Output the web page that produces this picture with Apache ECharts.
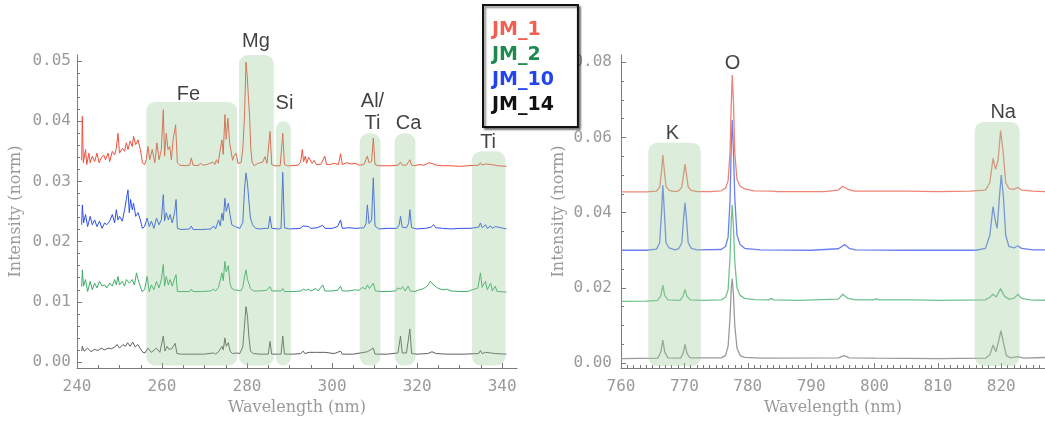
<!DOCTYPE html>
<html><head><meta charset="utf-8">
<script src="https://cdn.jsdelivr.net/npm/echarts@6.0.0/dist/echarts.min.js"></script>
<style>html,body{margin:0;padding:0;background:#fff}#c{width:1045px;height:423px}</style>
</head><body><div id="c"></div>
<script>
// ---------- sample names & colours ----------
const sampleNames = ['JM_1', 'JM_2', 'JM_10', 'JM_14'];
const uvColors = ['#f0503c', '#3cae68', '#3050ee', '#5e5e5e'];
const nirColors = ['#f08474', '#70c28e', '#6a80f0', '#9a9a9a'];
const legendColors = ['#f06050', '#1e8a50', '#2244ee', '#111111'];

// ---------- tick labels ----------
const leftXTicks = [240, 260, 280, 300, 320, 340];
const leftYTicks = [0, 0.01, 0.02, 0.03, 0.04, 0.05];
const rightXTicks = [760, 770, 780, 790, 800, 810, 820];
const rightYTicks = [0, 0.02, 0.04, 0.06, 0.08];

// ---------- UV spectra (240-342 nm): [wavelength nm, intensity] ----------
const jm1UV = [[241.1,0.0335],[241.25,0.0408],[241.5,0.0331],[242.0,0.0353],[242.3,0.0328],[242.8,0.0347],[243.1,0.0331],[243.6,0.0342],[244.15,0.0333],[244.7,0.0347],[245.2,0.0331],[245.7,0.0339],[246.3,0.0344],[246.7,0.0336],[247.3,0.0347],[247.7,0.0333],[248.3,0.0350],[248.85,0.0344],[249.25,0.0355],[249.64,0.0380],[250.0,0.0347],[250.7,0.0355],[251.2,0.0350],[251.6,0.0364],[252.0,0.0353],[252.5,0.0367],[253.0,0.0358],[253.3,0.0375],[253.8,0.0361],[254.35,0.0369],[254.9,0.0353],[255.4,0.0331],[255.9,0.0328],
[256.3,0.0336],[256.7,0.0358],[257.1,0.0336],[257.7,0.0353],[258.3,0.0331],[258.8,0.0364],[259.3,0.0336],[259.84,0.0353],[260.3,0.0419],[260.6,0.0342],[261.0,0.0380],[261.4,0.0353],[261.8,0.0358],[262.2,0.0336],[262.6,0.0369],[263.2,0.0394],[263.6,0.0331],[264.2,0.0327],[265.5,0.0326],[266.5,0.0327],[266.9,0.0339],[267.3,0.0327],[268.5,0.0326],[269.0,0.0330],[269.6,0.0327],[270.5,0.0328],[271.2,0.0330],[272.0,0.0332],[272.4,0.0328],[272.8,0.0336],[273.2,0.0330],[273.7,0.0353],[274.1,0.0369],[274.4,0.0345],[274.8,0.0411],[275.1,0.0370],[275.5,0.0405],[275.9,0.0364],[276.3,0.0364],[276.6,0.0335],[276.9,0.0342],[277.4,0.0347],[277.9,0.0330],[278.6,0.0331],[279.0,0.0353],[279.4,0.0408],[279.75,0.0498],[280.05,0.0474],[280.35,0.0436],[280.6,0.0408],[280.9,0.0353],[281.2,0.0332],[281.7,0.0326],[282.5,0.0330],[283.1,0.0331],[283.7,0.0332],[284.2,0.0341],[284.7,0.0330],[285.4,0.0383],[285.8,0.0328],[286.5,0.0326],[287.8,0.0326],[288.4,0.0380],[288.8,0.0328],[289.5,0.0326],[290.3,0.0326],[292.0,0.0327],[292.6,0.0332],[293.0,0.0353],[293.3,0.0333],[293.7,0.0342],[294.0,0.0330],[294.5,0.0340],[294.9,0.0342],[295.3,0.0330],[295.8,0.0335],[296.3,0.0328],[297.3,0.0328],[298.3,0.0342],[298.7,0.0328],[299.5,0.0328],[300.5,0.0330],[301.5,0.0328],[302.0,0.0346],[302.4,0.0328],[303.5,0.0331],[304.5,0.0329],[305.5,0.0330],[306.5,0.0327],[307.5,0.0328],[308.3,0.0342],[308.7,0.0331],[309.3,0.0333],[309.7,0.0372],[310.1,0.0328],[310.8,0.0326],[312,0.0326],[314,0.0326],[315.5,0.0327],[316.1,0.0332],[316.5,0.0327],[317.5,0.0327],[318.3,0.0336],[318.7,0.0327],[319.5,0.0326],[320.5,0.0328],[321.5,0.0327],[322.3,0.0329],[322.8,0.0331],[323.3,0.0330],[323.8,0.0329],[324.5,0.0327],[326,0.0326],[328,0.0326],[330,0.0325],[332,0.0326],[334.5,0.0327],[334.9,0.0331],[335.3,0.0327],[336.1,0.0329],[336.5,0.0326],[337.3,0.0328],[337.7,0.0326],[338.4,0.0327],[339,0.0326],[341,0.0325]];

const jm10UV = [[241.1,0.0228],[241.25,0.0261],[241.55,0.0231],[242.0,0.0245],[242.5,0.0225],[243.1,0.0242],[243.6,0.0228],[244.15,0.0236],[244.7,0.0225],[245.3,0.0234],[245.9,0.0222],[246.5,0.0231],[247.0,0.0228],[247.7,0.0234],[248.3,0.0245],[248.85,0.0231],[249.25,0.0253],[249.64,0.0236],[250.0,0.0242],[250.66,0.0234],[251.2,0.0253],[251.6,0.0270],[251.99,0.0286],[252.3,0.0248],[252.6,0.0270],[253.0,0.0253],[253.3,0.0264],[253.8,0.0242],[254.35,0.0248],[254.9,0.0236],[255.4,0.0222],[255.9,0.0225],
[256.5,0.0239],[257.0,0.0225],[257.5,0.0234],[258.1,0.0222],[258.7,0.0239],[259.3,0.0228],[259.84,0.0236],[260.3,0.0278],[260.6,0.0234],[261.0,0.0248],[261.5,0.0236],[261.9,0.0245],[262.4,0.0231],[263.0,0.0250],[263.3,0.0270],[263.6,0.0222],[264.5,0.0220],[266.5,0.0221],[266.9,0.0226],[267.3,0.0220],[269,0.0220],[271.5,0.0221],[272.1,0.0226],[272.6,0.0221],[273.3,0.0236],[273.7,0.0226],[274.1,0.0247],[274.4,0.0235],[274.8,0.0272],[275.1,0.0250],[275.6,0.0264],[276.0,0.0245],[276.4,0.0228],[276.9,0.0226],[277.5,0.0224],[278.3,0.0222],[279.0,0.0232],[279.4,0.0286],[279.75,0.0314],[280.1,0.0297],[280.4,0.0270],[280.8,0.0239],[281.3,0.0228],[282,0.0222],[283,0.0221],[284.5,0.0222],[285.0,0.0222],[285.4,0.0242],[285.8,0.0222],[287.5,0.0221],[288.0,0.0222],[288.4,0.0315],[288.8,0.0223],[290,0.0221],[292.5,0.0222],[293.2,0.0226],[293.6,0.0223],[294.5,0.0225],[295.0,0.0222],[296.5,0.0223],[297.8,0.0227],[298.3,0.0222],[300,0.0222],[301.3,0.0225],[302.0,0.0236],[302.4,0.0222],[304,0.0223],[305.5,0.0222],[307.5,0.0223],[308.0,0.0230],[308.3,0.0261],[308.7,0.0230],[309.3,0.0236],[309.7,0.0306],[310.1,0.0226],[311,0.0221],[313,0.0222],[315.3,0.0222],[315.8,0.0228],[316.1,0.0242],[316.5,0.0224],[317.5,0.0223],[318.0,0.0230],[318.3,0.0253],[318.7,0.0223],[320,0.0221],[322,0.0222],[323.3,0.0224],[323.9,0.0228],[324.4,0.0223],[326,0.0222],[328,0.0221],[330,0.0222],[332.5,0.0222],[334.5,0.0224],[334.9,0.0231],[335.3,0.0223],[336.1,0.0228],[336.5,0.0222],[337.3,0.0226],[337.7,0.0222],[338.4,0.0225],[338.8,0.0222],[341,0.0221]];

const jm2UV = [[241.1,0.0125],[241.25,0.0153],[241.55,0.0126],[242.0,0.0137],[242.5,0.0117],[243.1,0.0134],[243.6,0.0120],[244.15,0.0131],[244.7,0.0123],[245.3,0.0134],[245.9,0.0126],[246.5,0.0128],[247.0,0.0123],[247.7,0.0131],[248.3,0.0126],[248.85,0.0137],[249.25,0.0128],[249.64,0.0142],[250.0,0.0128],[250.66,0.0134],[251.2,0.0126],[251.6,0.0137],[252.3,0.0131],[253.0,0.0137],[253.5,0.0128],[254.0,0.0148],[254.35,0.0137],[254.7,0.0140],[255.3,0.0117],[255.9,0.0120],
[256.5,0.0142],[257.0,0.0117],[257.5,0.0128],[258.1,0.0120],[258.7,0.0134],[259.3,0.0123],[259.84,0.0137],[260.3,0.0162],[260.6,0.0126],[261.0,0.0142],[261.5,0.0128],[261.9,0.0137],[262.4,0.0126],[263.0,0.0140],[263.3,0.0145],[263.6,0.0117],[264.5,0.0117],[266.5,0.0117],[266.9,0.0121],[267.3,0.0117],[269,0.0117],[271.5,0.0118],[272.1,0.0121],[272.6,0.0118],[273.3,0.0124],[273.7,0.0122],[274.1,0.0148],[274.4,0.0135],[274.8,0.0167],[275.1,0.0150],[275.6,0.0160],[276.0,0.0130],[276.4,0.0122],[277.0,0.0120],[277.8,0.0119],[278.5,0.0118],[279.0,0.0124],[279.4,0.0142],[279.75,0.0153],[280.1,0.0137],[280.4,0.0131],[280.8,0.0122],[281.5,0.0118],[283,0.0118],[284.5,0.0119],[285.4,0.0125],[285.8,0.0118],[288.0,0.0118],[288.4,0.0122],[288.8,0.0117],[291,0.0117],[292.6,0.0118],[293.3,0.0121],[293.8,0.0119],[294.5,0.0121],[295.0,0.0118],[296.2,0.0122],[296.7,0.0118],[297.8,0.0128],[298.3,0.0118],[300,0.0118],[301.3,0.0119],[302.0,0.0126],[302.4,0.0118],[304,0.0118],[305.5,0.0120],[306.3,0.0119],[307.2,0.0124],[307.8,0.0121],[308.3,0.0128],[308.8,0.0122],[309.7,0.0131],[310.2,0.0118],[311.5,0.0117],[313,0.0117],[315.0,0.0118],[315.4,0.0123],[316.1,0.0121],[316.6,0.0125],[317.2,0.0118],[317.9,0.0126],[318.4,0.0118],[319.5,0.0117],[320.5,0.0120],[321.2,0.0121],[322.0,0.0124],[322.6,0.0128],[323.1,0.0134],[323.5,0.0137],[323.9,0.0128],[324.3,0.0130],[324.8,0.0123],[325.5,0.0121],[326.3,0.0120],[327.0,0.0121],[328,0.0118],[330,0.0117],[332,0.0117],[332.5,0.0119],[333.5,0.0121],[334.3,0.0123],[334.9,0.0148],[335.3,0.0124],[335.7,0.0130],[336.1,0.0134],[336.5,0.0120],[337.3,0.0131],[337.7,0.0118],[338.4,0.0126],[338.8,0.0117],[339.5,0.0117],[341,0.0116]];

const jm14UV = [[241.1,0.0018],[241.25,0.0026],[241.7,0.0018],[242.5,0.0023],[243.3,0.0017],[244.1,0.0021],[244.9,0.0019],[245.7,0.0023],[246.5,0.0020],[247.3,0.0023],[248.1,0.0022],[248.9,0.0025],[249.4,0.0029],[250.0,0.0023],[250.8,0.0029],[251.4,0.0026],[251.9,0.0032],[252.5,0.0026],[253.1,0.0033],[253.7,0.0025],[254.3,0.0029],[254.9,0.0022],[255.5,0.0016],[256.0,0.0015],
[256.7,0.0023],[257.5,0.0016],[258.7,0.0023],[259.5,0.0016],[260.3,0.0043],[260.7,0.0018],[261.2,0.0026],[261.6,0.0021],[262.3,0.0022],[263.1,0.0031],[263.5,0.0014],[264.5,0.0013],[266.5,0.0013],[266.9,0.0016],[267.3,0.0013],[270,0.0013],[272.1,0.0015],[272.6,0.0013],[273.3,0.0017],[273.7,0.0015],[274.1,0.0026],[274.4,0.0020],[274.8,0.0040],[275.1,0.0026],[275.6,0.0032],[276.0,0.0018],[276.6,0.0014],[277.5,0.0015],[278.3,0.0014],[279.0,0.0025],[279.4,0.0060],[279.75,0.0092],[280.1,0.0076],[280.4,0.0045],[280.8,0.0018],[281.5,0.0014],[283,0.0013],[285.0,0.0013],[285.4,0.0034],[285.8,0.0013],[288.0,0.0013],[288.4,0.0043],[288.8,0.0013],[291,0.0013],[292.6,0.0014],[293.2,0.0018],[293.6,0.0014],[294.6,0.0016],[295,0.0013],[296.3,0.0016],[296.7,0.0013],[298.3,0.0016],[298.7,0.0013],[300.5,0.0014],[302.0,0.0018],[302.4,0.0013],[305,0.0013],[308.3,0.0017],[308.7,0.0014],[309.7,0.0023],[310.1,0.0013],[313,0.0013],[315.5,0.0015],[316.1,0.0043],[316.5,0.0015],[317.5,0.0015],[318.3,0.0055],[318.7,0.0014],[320,0.0013],[322.5,0.0014],[323.5,0.0017],[323.9,0.0018],[324.5,0.0014],[327,0.0013],[331,0.0013],[334.5,0.0014],[334.9,0.0019],[335.3,0.0014],[336.1,0.0016],[336.5,0.0013],[337.3,0.0015],[338.4,0.0014],[341,0.0013]];

// ---------- NIR spectra (760-827 nm) ----------
const jm1NIR = [[760,0.0455],[764,0.0455],[765.6,0.0457],[766.1,0.0468],[766.4,0.0510],[766.6,0.0553],[766.85,0.0510],[767.1,0.0470],[767.6,0.0459],[768.5,0.0456],[769.1,0.0458],[769.6,0.0468],[769.9,0.0505],[770.1,0.0529],[770.35,0.0500],[770.6,0.0468],[771.1,0.0459],[772,0.0456],[774,0.0456],[775.8,0.0458],[776.5,0.0465],[776.9,0.0485],[777.2,0.0560],[777.4,0.0690],[777.55,0.0766],[777.75,0.0690],[777.95,0.0560],[778.3,0.0488],[778.8,0.0470],[779.5,0.0463],[781,0.0458],[784,0.0457],[784.2,0.0459],[784.5,0.0456],[788,0.0456],[792,0.0456],[794.3,0.0460],[795.0,0.0470],[795.8,0.0462],[796.8,0.0457],[800,0.0457],[800.3,0.0459],[800.6,0.0457],[805,0.0457],[810,0.0456],[815,0.0457],[817.5,0.0460],[818.2,0.0480],[818.7,0.0544],[819.1,0.0515],[819.5,0.0540],[819.9,0.0618],[820.3,0.0560],[820.7,0.0480],[821.2,0.0464],[822,0.0462],[822.6,0.0467],[823.2,0.0460],[825,0.0457],[827,0.0456]];
const jm10NIR = [[760,0.0300],[764,0.0300],[765.6,0.0303],[766.1,0.0320],[766.4,0.0400],[766.6,0.0473],[766.85,0.0400],[767.1,0.0320],[767.6,0.0306],[768.5,0.0301],[769.1,0.0304],[769.6,0.0320],[769.9,0.0390],[770.1,0.0426],[770.35,0.0380],[770.6,0.0320],[771.1,0.0305],[772,0.0301],[775.8,0.0302],[776.5,0.0310],[776.9,0.0335],[777.2,0.0430],[777.4,0.0580],[777.55,0.0646],[777.75,0.0560],[777.95,0.0440],[778.3,0.0340],[778.8,0.0315],[779.5,0.0305],[780.0,0.0304],[780.3,0.0306],[780.7,0.0303],[782,0.0301],[790,0.0300],[794.3,0.0304],[795.3,0.0315],[796.0,0.0305],[797,0.0301],[805,0.0300],[810,0.0300],[816,0.0300],[817.5,0.0305],[818.2,0.0340],[818.7,0.0416],[819.1,0.0375],[819.35,0.0358],[819.7,0.0440],[820.0,0.0500],[820.35,0.0440],[820.7,0.0340],[821.2,0.0310],[822,0.0306],[822.6,0.0312],[823.2,0.0305],[825,0.0301],[827,0.0301]];
const jm2NIR = [[760,0.0164],[764,0.0165],[765.8,0.0167],[766.3,0.0180],[766.6,0.0207],[766.9,0.0180],[767.4,0.0168],[769.3,0.0167],[769.8,0.0178],[770.1,0.0196],[770.4,0.0178],[770.9,0.0168],[773,0.0167],[775.8,0.0168],[776.5,0.0175],[776.9,0.0195],[777.2,0.0280],[777.4,0.0380],[777.55,0.0420],[777.75,0.0360],[777.95,0.0270],[778.3,0.0200],[778.8,0.0180],[779.5,0.0172],[781,0.0169],[783.3,0.0168],[783.7,0.0172],[784.1,0.0168],[788,0.0167],[794.3,0.0170],[795.0,0.0183],[795.8,0.0172],[797,0.0168],[799.8,0.0168],[800.3,0.0171],[800.8,0.0168],[801.9,0.0168],[805.6,0.0168],[805.9,0.0170],[806.2,0.0168],[810,0.0167],[817.5,0.0168],[818.2,0.0175],[818.7,0.0183],[819.2,0.0176],[819.9,0.0198],[820.5,0.0178],[821.2,0.0170],[822.0,0.0172],[822.6,0.0183],[823.2,0.0172],[824.5,0.0168],[827,0.0167]];
const jm14NIR = [[760,0.0012],[765.8,0.0013],[766.3,0.0030],[766.6,0.0061],[766.9,0.0030],[767.4,0.0014],[769.4,0.0013],[769.8,0.0026],[770.1,0.0050],[770.4,0.0026],[770.9,0.0014],[775.8,0.0014],[776.5,0.0020],[776.9,0.0045],[777.2,0.0120],[777.4,0.0200],[777.55,0.0225],[777.75,0.0180],[777.95,0.0100],[778.3,0.0040],[778.8,0.0020],[779.5,0.0015],[782,0.0013],[794.3,0.0014],[795.2,0.0020],[796,0.0014],[800,0.0013],[810,0.0012],[817.5,0.0013],[818.2,0.0022],[818.7,0.0048],[819.15,0.0030],[819.6,0.0060],[819.95,0.0086],[820.4,0.0050],[820.8,0.0020],[821.5,0.0014],[822.6,0.0017],[823.5,0.0013],[827,0.0015]];

// ---------- element bands: [start nm, end nm, bottom, top] ----------
const uvBands = [[256.3,277.7,-0.0006,0.0432],[278.1,286.3,-0.0006,0.0510],[286.8,290.3,-0.0006,0.0400],[306.5,311.4,-0.0006,0.0380],[314.7,319.6,-0.0006,0.0380],[332.9,340.8,-0.0006,0.0350]];
const nirBands = [[764.3,772.6,-0.0008,0.0586],[815.8,822.9,-0.0008,0.0641]];

// ---------- element labels ----------
const uvLabels = [{name:'Fe',value:[266.2,0.0444]},{name:'Mg',value:[282.1,0.0533]},{name:'Si',value:[288.8,0.0430]},{name:'Al/\nTi',value:[309.5,0.0414]},{name:'Ca',value:[318.0,0.0397]},{name:'Ti',value:[336.7,0.0364]}];
const nirLabels = [{name:'K',value:[768.1,0.0611]},{name:'O',value:[777.6,0.0797]},{name:'Na',value:[820.3,0.0665]}];

// ---------- helpers ----------
function range(a, b, step, skip) { const out = []; for (let v = a; v <= b + 1e-9; v += step) { const r = Math.round(v * 10000) / 10000; if (!skip.some(s => Math.abs(s - r) < 1e-9)) out.push(r); } return out; }
const leftXMinor = range(245, 340, 5, leftXTicks);
const leftYMinor = range(0.002, 0.05, 0.002, leftYTicks);
const rightXMinor = range(761, 826, 1, rightXTicks);
const rightYMinor = range(0.005, 0.08, 0.005, rightYTicks);

const AX = '#7a7a7a', LBL = '#9a9a9a';
const tickFont = 'DejaVu Sans Mono', titleFont = 'DejaVu Serif';

function mainX(grid, min, max, ticks, labelFmt) {
  return { type:'value', gridIndex:grid, min, max, position:'bottom', name:'Wavelength (nm)', nameLocation:'middle', nameGap:32,
    nameTextStyle:{fontFamily:titleFont, fontSize:16, color:LBL},
    axisLine:{show:true, onZero:false, lineStyle:{color:AX, width:1}},
    axisTick:{show:true, inside:true, length:5, customValues:ticks, lineStyle:{color:AX}},
    axisLabel:{show:true, customValues:ticks, fontFamily:tickFont, fontSize:16, color:LBL, margin:11, formatter:labelFmt},
    splitLine:{show:false} };
}
function minorX(grid, min, max, ticks) {
  return { type:'value', gridIndex:grid, min, max, position:'bottom',
    axisLine:{show:false, onZero:false}, axisTick:{show:true, inside:true, length:3, customValues:ticks, lineStyle:{color:AX}},
    axisLabel:{show:false}, splitLine:{show:false} };
}
function mainY(grid, min, max, ticks, gap, margin) {
  return { type:'value', gridIndex:grid, min, max, position:'left', name:'Intensity (norm)', nameLocation:'middle', nameGap:gap,
    nameTextStyle:{fontFamily:titleFont, fontSize:16, color:LBL},
    axisLine:{show:true, onZero:false, lineStyle:{color:AX, width:1}},
    axisTick:{show:true, inside:true, length:5, customValues:ticks, lineStyle:{color:AX}},
    axisLabel:{show:true, customValues:ticks, fontFamily:tickFont, fontSize:16, color:LBL, margin:margin, formatter:v => Number(v).toFixed(2)},
    splitLine:{show:false} };
}
function minorY(grid, min, max, ticks) {
  return { type:'value', gridIndex:grid, min, max, position:'left',
    axisLine:{show:false, onZero:false}, axisTick:{show:true, inside:true, length:3, customValues:ticks, lineStyle:{color:AX}},
    axisLabel:{show:false}, splitLine:{show:false} };
}

function lineSeries(name, data, color, xi, yi, width) {
  return { name, type:'line', data, xAxisIndex:xi, yAxisIndex:yi, showSymbol:false, symbol:'none',
    lineStyle:{color, width}, itemStyle:{color}, z:2, silent:true };
}
function bandSeries(data, xi, yi) {
  return { type:'custom', xAxisIndex:xi, yAxisIndex:yi, data, z:6, silent:true, encode:{x:[0,1], y:[2,3]},
    renderItem(params, api) {
      const a = api.coord([api.value(0), api.value(3)]);
      const b = api.coord([api.value(1), api.value(2)]);
      return { type:'rect', shape:{x:a[0], y:a[1], width:b[0]-a[0], height:b[1]-a[1], r:9},
        style:{fill:'rgba(150,200,150,0.33)'} };
    } };
}
function labelSeries(data, xi, yi) {
  return { type:'scatter', xAxisIndex:xi, yAxisIndex:yi, data, symbolSize:0, clip:false, z:20, silent:true,
    label:{show:true, position:'inside', formatter:'{b}', color:'#111', fontFamily:'Liberation Sans', fontSize:20, lineHeight:22} };
}

const uvData = [jm1UV, jm2UV, jm10UV, jm14UV];
const nirData = [jm1NIR, jm2NIR, jm10NIR, jm14NIR];
const series = [];
[3,2,1,0].forEach(i => series.push(lineSeries(sampleNames[i], uvData[i], uvColors[i], 0, 0, 1)));
[3,2,1,0].forEach(i => series.push(lineSeries(sampleNames[i], nirData[i], nirColors[i], 2, 2, 1.3)));
series.push(bandSeries(uvBands, 0, 0), bandSeries(nirBands, 2, 2));
series.push(labelSeries(uvLabels, 0, 0), labelSeries(nirLabels, 2, 2));

const chart = echarts.init(document.getElementById('c'), null, {renderer:'canvas'});
chart.setOption({
  animation:false,
  backgroundColor:'#fff',
  grid:[{left:77, width:440, top:55, bottom:55}, {left:621, right:0, top:55, bottom:55}],
  xAxis:[mainX(0, 240, 343.5, leftXTicks, v => String(v)), minorX(0, 240, 343.5, leftXMinor),
         mainX(1, 760, 826.9, rightXTicks, v => String(v)), minorX(1, 760, 826.9, rightXMinor)],
  yAxis:[mainY(0, -0.001, 0.051, leftYTicks, 53, 6), minorY(0, -0.001, 0.051, leftYMinor),
         mainY(1, -0.0013, 0.0819, rightYTicks, 54, 9), minorY(1, -0.0013, 0.0819, rightYMinor)],
  legend:{ orient:'vertical', left:483, top:5, selectedMode:false, itemWidth:0, itemHeight:0, itemGap:6,
    padding:[16,24,12,4], backgroundColor:'#fff', borderColor:'#111', borderWidth:2,
    shadowColor:'rgba(0,0,0,0.45)', shadowBlur:2, shadowOffsetX:2, shadowOffsetY:2,
    textStyle:{fontFamily:'DejaVu Sans', fontWeight:'bold', fontSize:19, lineHeight:19},
    data: sampleNames.map((n, i) => ({name:n, icon:'rect', textStyle:{color:legendColors[i]}})) },
  series
});
</script></body></html>
